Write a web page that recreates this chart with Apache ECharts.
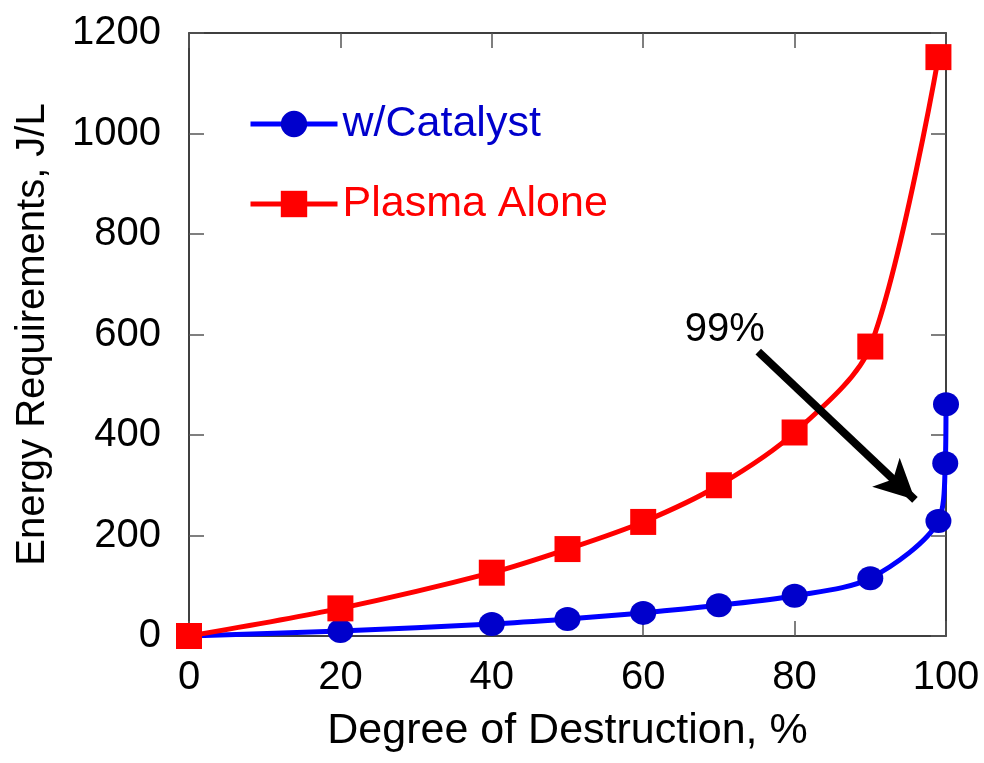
<!DOCTYPE html>
<html><head><meta charset="utf-8">
<script src="https://cdn.jsdelivr.net/npm/echarts@6/dist/echarts.min.js"></script>
<style>html,body{margin:0;padding:0;background:#fff}#c{width:984px;height:763px}</style>
</head><body><div id="c"></div>
<script>
const catalystX = [0, 20, 40, 50, 60, 70, 80, 90, 99, 99.9, 100];
const catalystY = [0, 10, 24, 34, 46, 61, 80, 115, 229, 344, 461];
const plasmaX = [0, 20, 40, 50, 60, 70, 80, 90, 99];
const plasmaY = [0, 55, 126, 173, 227, 300, 405, 576, 1152];
const xTicks = [0, 20, 40, 60, 80, 100];
const yTicks = [0, 200, 400, 600, 800, 1000, 1200];
const arrowFrom = [75.2, 566];
const arrowTo = [95.9, 271];
const annotText = '99%';
const annotPos = [65.5, 609];

const font = 'Liberation Sans, Arial, sans-serif';
const chart = echarts.init(document.getElementById('c'));
const pair = (xs, ys) => xs.map((x, i) => [x, ys[i]]);
const axisCommon = {
  min: 0,
  axisLine: {show: true, onZero: false, lineStyle: {color: '#000', width: 1.5}},
  axisTick: {show: true, inside: true, length: 15, lineStyle: {color: '#555', width: 1.5}},
  splitLine: {show: false}
};
chart.setOption({
  animation: false,
  grid: {left: 189, right: 38, top: 33, bottom: 127},
  legend: {
    orient: 'vertical', left: 243, top: 97, itemWidth: 87, itemHeight: 33, itemGap: 36,
    data: [
      {name: 'w/Catalyst', textStyle: {color: '#0000cc'}},
      {name: 'Plasma Alone', textStyle: {color: '#ff0000'}}
    ],
    lineStyle: {width: 5},
    textStyle: {fontFamily: font, fontSize: 43, lineHeight: 44}
  },
  xAxis: [
    Object.assign({}, axisCommon, {type: 'value', max: 100, interval: 20, position: 'bottom',
      axisLabel: {fontFamily: font, fontSize: 40, color: '#000', margin: 22},
      name: 'Degree of Destruction, %', nameLocation: 'middle', nameGap: 74,
      nameTextStyle: {fontFamily: font, fontSize: 43, color: '#000'}}),
    Object.assign({}, axisCommon, {type: 'value', max: 100, interval: 20, position: 'top',
      axisLabel: {show: false}})
  ],
  yAxis: [
    Object.assign({}, axisCommon, {type: 'value', max: 1200, interval: 200, position: 'left',
      axisLabel: {fontFamily: font, fontSize: 40, color: '#000', margin: 28, formatter: v => String(v)},
      name: 'Energy Requirements, J/L', nameLocation: 'middle', nameGap: 136,
      nameTextStyle: {fontFamily: font, fontSize: 40, color: '#000'}}),
    Object.assign({}, axisCommon, {type: 'value', max: 1200, interval: 200, position: 'right',
      axisLabel: {show: false}})
  ],
  series: [
    {
      name: 'w/Catalyst', type: 'line', data: pair(catalystX, catalystY), smooth: 0.3,
      symbol: 'circle', symbolSize: [26, 24], z: 3,
      lineStyle: {color: '#0000ff', width: 5}, itemStyle: {color: '#0000cc'}
    },
    {
      name: 'Plasma Alone', type: 'line', data: pair(plasmaX, plasmaY), smooth: 0.3,
      symbol: 'rect', symbolSize: 26, z: 4,
      lineStyle: {color: '#ff0000', width: 5}, itemStyle: {color: '#ff0000'},
      markLine: {
        silent: true, symbol: ['none', 'arrow'], symbolSize: [30, 40],
        lineStyle: {color: '#000', width: 8, type: 'solid'},
        label: {show: false},
        data: [[{coord: arrowFrom}, {coord: arrowTo}]]
      }
    }
  ]
});
const p = chart.convertToPixel({xAxisIndex: 0, yAxisIndex: 0}, annotPos);
chart.setOption({
  graphic: [{type: 'text', x: p[0], y: p[1],
    style: {text: annotText, font: '40px ' + font, fill: '#000', textAlign: 'left', textVerticalAlign: 'middle'}}]
});
</script></body></html>
